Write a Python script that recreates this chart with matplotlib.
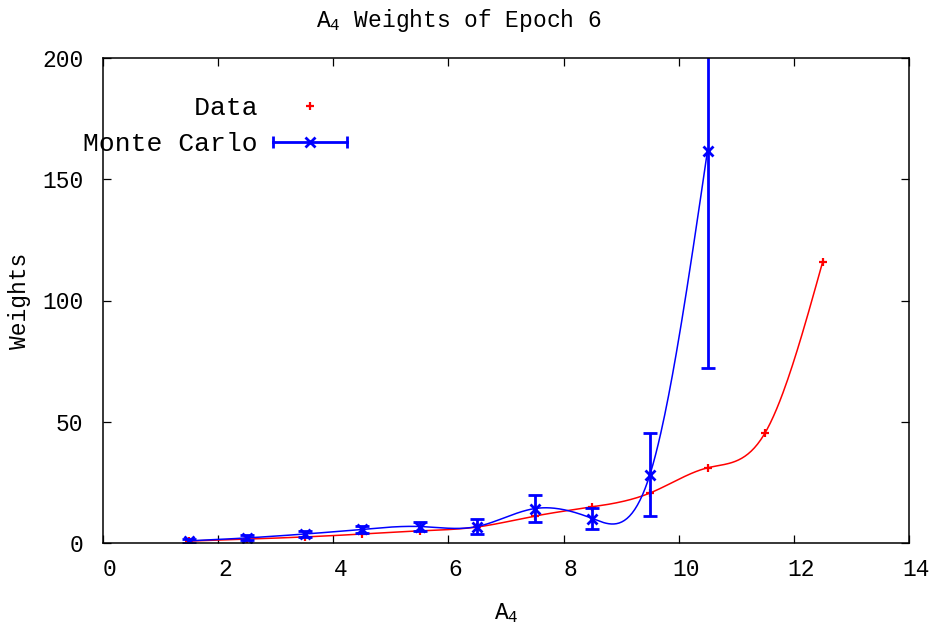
import matplotlib
matplotlib.use('Agg')
import matplotlib.pyplot as plt
import matplotlib.transforms as mtransforms
from matplotlib.lines import Line2D
from matplotlib.legend_handler import HandlerLine2D
import numpy as np

# bin centres of A_4
data_x = [1.5, 2.5, 3.5, 4.5, 5.5, 6.5, 7.5, 8.5, 9.5, 10.5, 11.5, 12.5]
data_w = [0.8, 1.6, 2.5, 3.7, 5.0, 6.6, 11.1, 14.9, 20.6, 31.0, 45.4, 115.9]

mc_x = [1.5, 2.5, 3.5, 4.5, 5.5, 6.5, 7.5, 8.5, 9.5, 10.5]
mc_w = [0.9, 2.1, 3.7, 5.6, 6.8, 6.8, 14.2, 10.1, 28.2, 161.8]
mc_err = [0.8, 1.0, 1.1, 1.3, 2.0, 3.0, 5.5, 4.3, 17.2, 89.6]

x_ticks = [0, 2, 4, 6, 8, 10, 12, 14]
y_ticks = [0, 50, 100, 150, 200]

FONT = 'Liberation Mono'
FS = 16.5
plt.rcParams['mathtext.fontset'] = 'custom'
plt.rcParams['mathtext.rm'] = FONT


def csplines(x, y, n=400):
    # natural cubic spline, like gnuplot's "smooth csplines"
    x = np.asarray(x, float)
    y = np.asarray(y, float)
    k = len(x)
    h = np.diff(x)
    A = np.zeros((k, k))
    b = np.zeros(k)
    A[0, 0] = 1
    A[-1, -1] = 1
    for i in range(1, k - 1):
        A[i, i - 1] = h[i - 1]
        A[i, i] = 2 * (h[i - 1] + h[i])
        A[i, i + 1] = h[i]
        b[i] = 6 * ((y[i + 1] - y[i]) / h[i] - (y[i] - y[i - 1]) / h[i - 1])
    M = np.linalg.solve(A, b)
    xs = np.linspace(x[0], x[-1], n)
    idx = np.clip(np.searchsorted(x, xs) - 1, 0, k - 2)
    x0, x1 = x[idx], x[idx + 1]
    hh = x1 - x0
    t0 = x1 - xs
    t1 = xs - x0
    ys = (M[idx] * t0 ** 3 + M[idx + 1] * t1 ** 3) / (6 * hh) \
        + (y[idx] / hh - M[idx] * hh / 6) * t0 \
        + (y[idx + 1] / hh - M[idx + 1] * hh / 6) * t1
    return xs, ys


fig = plt.figure(figsize=(9.35, 6.31), dpi=100)
ax = fig.add_axes([103 / 935, 1 - 543 / 631, 806 / 935, 485 / 631])

sx, sy = csplines(data_x, data_w)
ax.plot(sx, sy, color='red', linewidth=1.1)
ax.plot(data_x, data_w, linestyle='none', marker='+', color='red', markersize=6, markeredgewidth=1.6)

mx, my = csplines(mc_x, mc_w)
ax.plot(mx, my, color='blue', linewidth=1.1)
ax.errorbar(mc_x, mc_w, yerr=mc_err, fmt='x', color='blue', markersize=6.5, markeredgewidth=2,
            elinewidth=2, capsize=5, capthick=2)

ax.set_xlim(0, 14)
ax.set_ylim(0, 200)
ax.set_xticks(x_ticks)
ax.set_yticks(y_ticks)
ax.tick_params(direction='in', top=True, right=True, length=6, width=0.9, labelsize=FS)
ax.tick_params(axis='x', pad=11)
ax.tick_params(axis='y', pad=14)
shift = mtransforms.ScaledTranslation(0.07, 0, fig.dpi_scale_trans)
for lab in ax.get_xticklabels():
    lab.set_family(FONT)
    lab.set_transform(lab.get_transform() + shift)
for lab in ax.get_yticklabels():
    lab.set_family(FONT)
for sp in ax.spines.values():
    sp.set_linewidth(1.1)

fig.text(459 / 935, 1 - 20 / 631, 'A$_4$ Weights of Epoch 6', fontfamily=FONT, fontsize=FS,
         ha='center', va='center')
ax.set_xlabel('A$_4$', fontfamily=FONT, fontsize=FS, labelpad=14)
ax.set_ylabel('Weights', fontfamily=FONT, fontsize=FS, labelpad=8)

# legend in gnuplot style: right aligned text, sample to the right
h_data = Line2D([], [], linestyle='none', marker='+', color='red', markersize=6, markeredgewidth=1.6)
h_bar = Line2D([], [], color='blue', linewidth=2, marker='|', markersize=9, markeredgewidth=2)
h_x = Line2D([], [], linestyle='none', marker='x', color='blue', markersize=6.5, markeredgewidth=2)
leg = fig.legend([h_data, (h_bar, h_x)], ['Data'.rjust(11), 'Monte Carlo'],
                 loc='upper left', bbox_to_anchor=(83 / 935, 1 - 96 / 631), bbox_transform=fig.transFigure,
                 frameon=False, markerfirst=False, numpoints=2, borderpad=0, borderaxespad=0,
                 handlelength=2.77, handletextpad=0.6, labelspacing=0.47,
                 prop={'family': FONT, 'size': 19},
                 handler_map={h_data: HandlerLine2D(numpoints=1), h_x: HandlerLine2D(numpoints=1),
                              h_bar: HandlerLine2D(numpoints=2, marker_pad=0)})

fig.savefig('out.png', dpi=100)
